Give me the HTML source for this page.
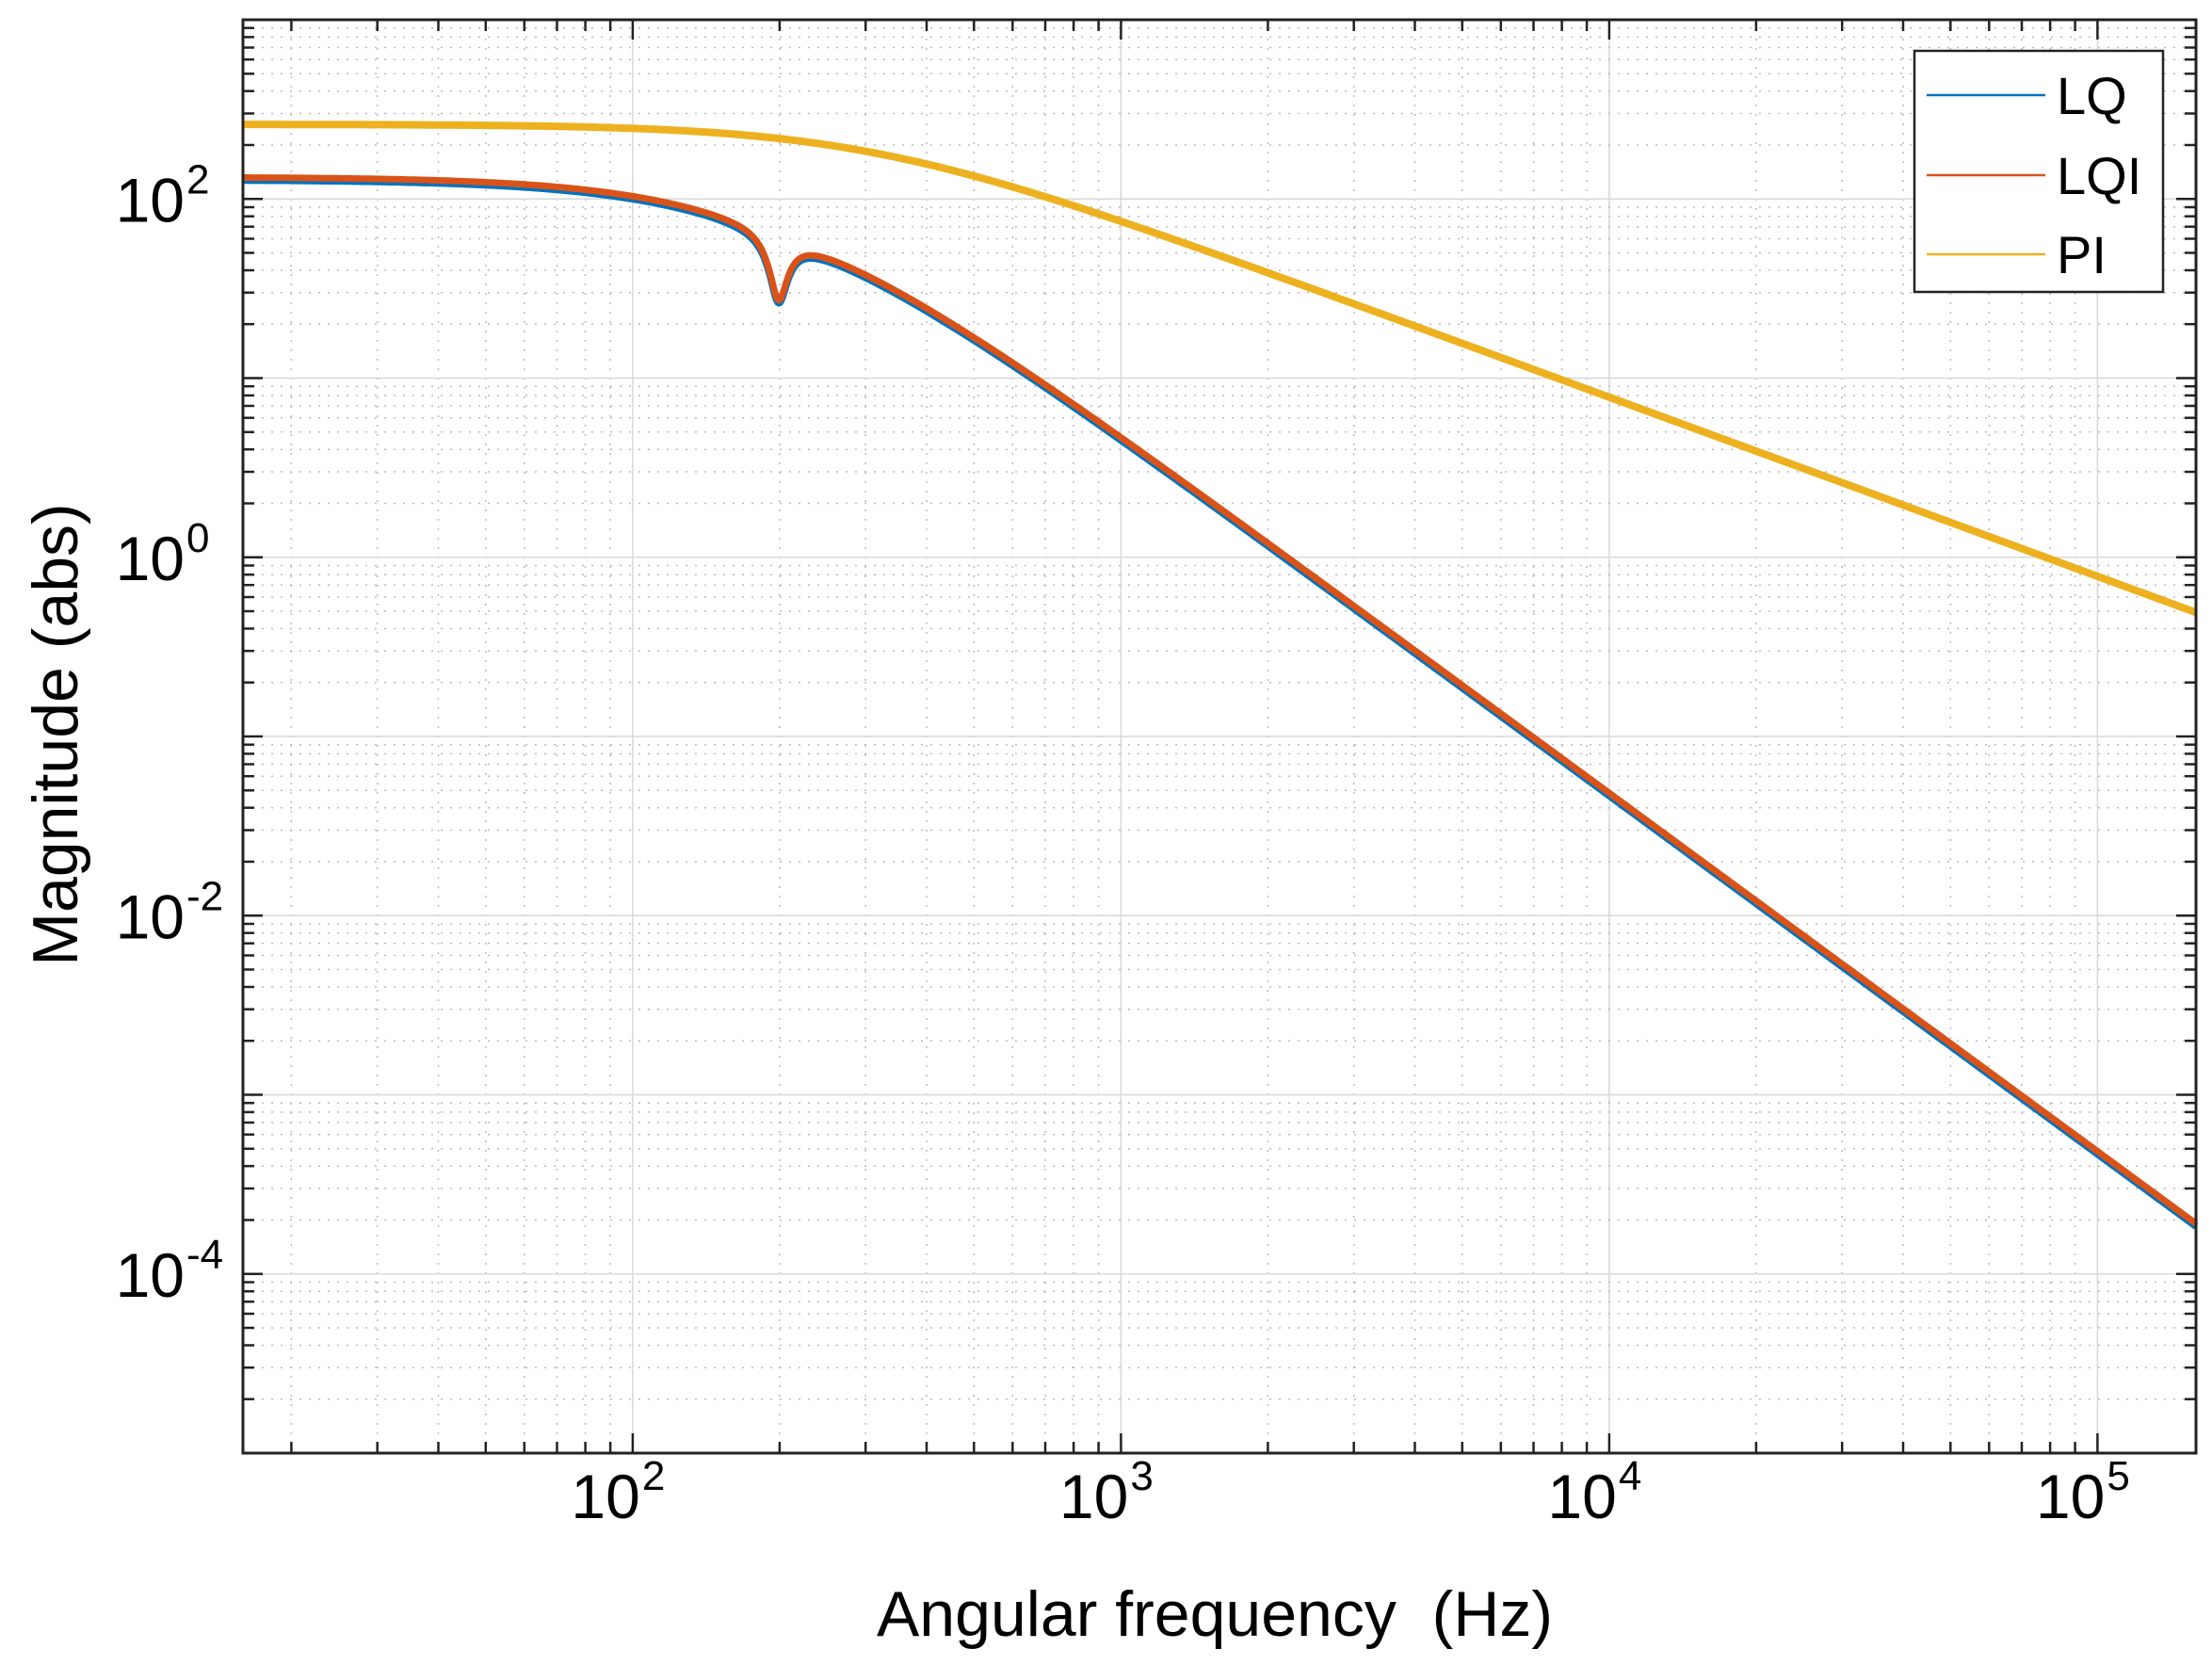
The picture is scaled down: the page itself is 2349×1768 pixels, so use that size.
<!DOCTYPE html>
<html><head><meta charset="utf-8"><style>
html,body{margin:0;padding:0;background:#fff;width:2349px;height:1768px;overflow:hidden}
svg text{font-family:"Liberation Sans",Arial,sans-serif;fill:#000}
</style></head><body>
<svg id="s" width="2349" height="1768" xmlns="http://www.w3.org/2000/svg"></svg>
<script>
const L=258,R=2332,T=21,B=1543;
const xl0=Math.log10(100/(2*Math.PI)), xl1=Math.log10(1e6/(2*Math.PI));
const yl0=-5, yl1=3;
const X=f=>L+(Math.log10(f)-xl0)/(xl1-xl0)*(R-L);
const Y=v=>B-(Math.log10(v)-yl0)/(yl1-yl0)*(B-T);
let h='';
for(let d=1;d<=5;d++)for(let k=1;k<10;k++){const f=k*Math.pow(10,d);if(f<10**xl0||f>10**xl1)continue;const x=X(f).toFixed(1);
 if(k==1) h+=`<line x1="${x}" y1="${T}" x2="${x}" y2="${B}" stroke="#d8d8d8" stroke-width="1.5"/>`;
 else h+=`<line x1="${x}" y1="${T}" x2="${x}" y2="${B}" stroke="#bbb" stroke-width="1.5" stroke-dasharray="2,8"/>`;}
for(let d=-5;d<3;d++)for(let k=1;k<10;k++){const v=k*Math.pow(10,d);const y=Y(v).toFixed(1);
 if(k==1) h+=`<line x1="${L}" y1="${y}" x2="${R}" y2="${y}" stroke="#d8d8d8" stroke-width="1.5"/>`;
 else h+=`<line x1="${L}" y1="${y}" x2="${R}" y2="${y}" stroke="#bbb" stroke-width="1.5" stroke-dasharray="2,8"/>`;}
for(let d=1;d<=5;d++)for(let k=1;k<10;k++){const f=k*Math.pow(10,d);if(f<10**xl0||f>10**xl1)continue;const x=X(f).toFixed(1);const len=k==1?21:12;
 h+=`<line x1="${x}" y1="${B}" x2="${x}" y2="${B-len}" stroke="#222" stroke-width="2.5"/><line x1="${x}" y1="${T}" x2="${x}" y2="${T+len}" stroke="#222" stroke-width="2.5"/>`;}
for(let d=-5;d<3;d++)for(let k=1;k<10;k++){const v=k*Math.pow(10,d);const y=Y(v).toFixed(1);const len=k==1?21:12;
 h+=`<line x1="${L}" y1="${y}" x2="${L+len}" y2="${y}" stroke="#222" stroke-width="2.5"/><line x1="${R}" y1="${y}" x2="${R-len}" y2="${y}" stroke="#222" stroke-width="2.5"/>`;}
function cdiv(a,b){const d=b[0]*b[0]+b[1]*b[1];return [(a[0]*b[0]+a[1]*b[1])/d,(a[1]*b[0]-a[0]*b[1])/d];}
function lq(f){const fn=199;const num=[fn*fn-f*f,f*fn/14],den=[fn*fn-f*f,f*fn/6];const n=cdiv(num,den);
 const m=Math.hypot(n[0],n[1]);return 131*m/(1+(f/191)**2);}
function pi(f){return 261/Math.sqrt(1+(f/300)**2);}
function path(fn,sc,off){let p='';const N=3000;for(let i=0;i<=N;i++){const lf=xl0+(xl1-xl0)*i/N;const f=10**lf;p+=(i?'L':'M')+X(f).toFixed(1)+','+(Y(fn(f)*sc)+off).toFixed(1);}return p;}
h+=`<path d="${path(pi,1,0)}" fill="none" stroke="#EDB120" stroke-width="8"/>`;
h+=`<path d="${path(lq,1,2)}" fill="none" stroke="#0072BD" stroke-width="7.5"/>`;
h+=`<path d="${path(lq,1,-1)}" fill="none" stroke="#D95319" stroke-width="7"/>`;
h+=`<rect x="${L}" y="${T}" width="${R-L}" height="${B-T}" fill="none" stroke="#222" stroke-width="3"/>`;
[[2,'2'],[0,'0'],[-2,'-2'],[-4,'-4']].forEach(([e,s])=>{const y=Y(10**e);
 h+=`<text x="${196}" y="${y+24}" font-size="66" text-anchor="end">10</text><text x="${198}" y="${y-6}" font-size="44">${s}</text>`;});
[2,3,4,5].forEach(e=>{const x=X(10**e);
 h+=`<text x="${x+8}" y="1612" font-size="66" text-anchor="end">10</text><text x="${x+10}" y="1582" font-size="44">${e}</text>`;});
h+=`<text x="1290" y="1737" font-size="68" text-anchor="middle">Angular frequency&#160; (Hz)</text>`;
h+=`<text transform="translate(82,780) rotate(-90)" font-size="68" text-anchor="middle">Magnitude (abs)</text>`;
h+=`<text x="1318" y="14" font-size="30" text-anchor="middle">˘</text>`;
h+=`<rect x="2033" y="54" width="264" height="256" fill="#fff" stroke="#222" stroke-width="2.5"/>`;
[['LQ','#0072BD',101],['LQI','#D95319',186],['PI','#EDB120',270]].forEach(([t,c,y])=>{
 h+=`<line x1="2046" y1="${y}" x2="2172" y2="${y}" stroke="${c}" stroke-width="2.5"/><text x="2184" y="${y+20}" font-size="56">${t}</text>`;});
document.getElementById('s').innerHTML=h;
</script>
</body></html>
